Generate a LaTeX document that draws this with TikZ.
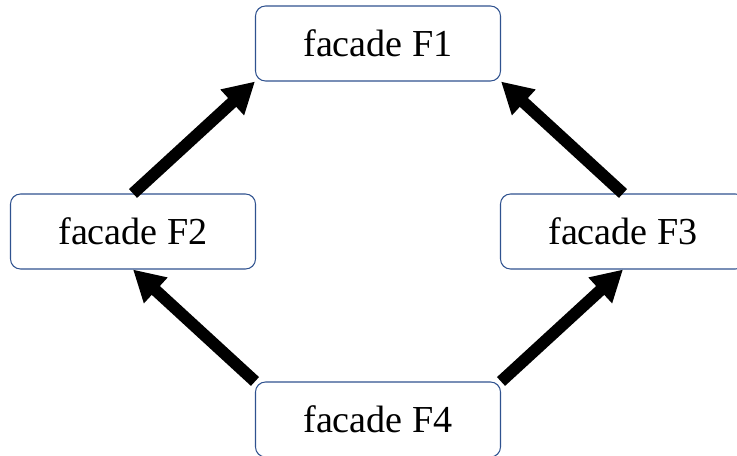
\documentclass[tikz,border=0pt]{standalone}
\usepackage{fontspec}
\setmainfont{Liberation Serif}
\usetikzlibrary{arrows.meta}

\definecolor{boxblue}{RGB}{47,82,143}

\begin{document}
\begin{tikzpicture}[
		facade/.style={draw=boxblue,line width=0.6pt,rounded corners=0.2cm,minimum width=4.9cm,minimum height=1.5cm,font=\fontsize{21.7}{26}\selectfont},
		bigarrow/.style={line width=6.8pt,-{Triangle[length=17.6pt,width=18.7pt]}}
	]
		\useasboundingbox (0,0) rectangle (14.74,-9.12);

		\node (F1) at (7.56,-0.87) [facade] {facade F1};
		\node (F2) at (2.66,-4.63) [facade] {facade F2};
		\node (F3) at (12.46,-4.63) [facade] {facade F3};
		\node (F4) at (7.56,-8.39) [facade] {facade F4};

		\draw [bigarrow] (F2.north) -- (F1.south west);
		\draw [bigarrow] (F3.north) -- (F1.south east);
		\draw [bigarrow] (F4.north west) -- (F2.south);
		\draw [bigarrow] (F4.north east) -- (F3.south);
	\end{tikzpicture}
\end{document}
